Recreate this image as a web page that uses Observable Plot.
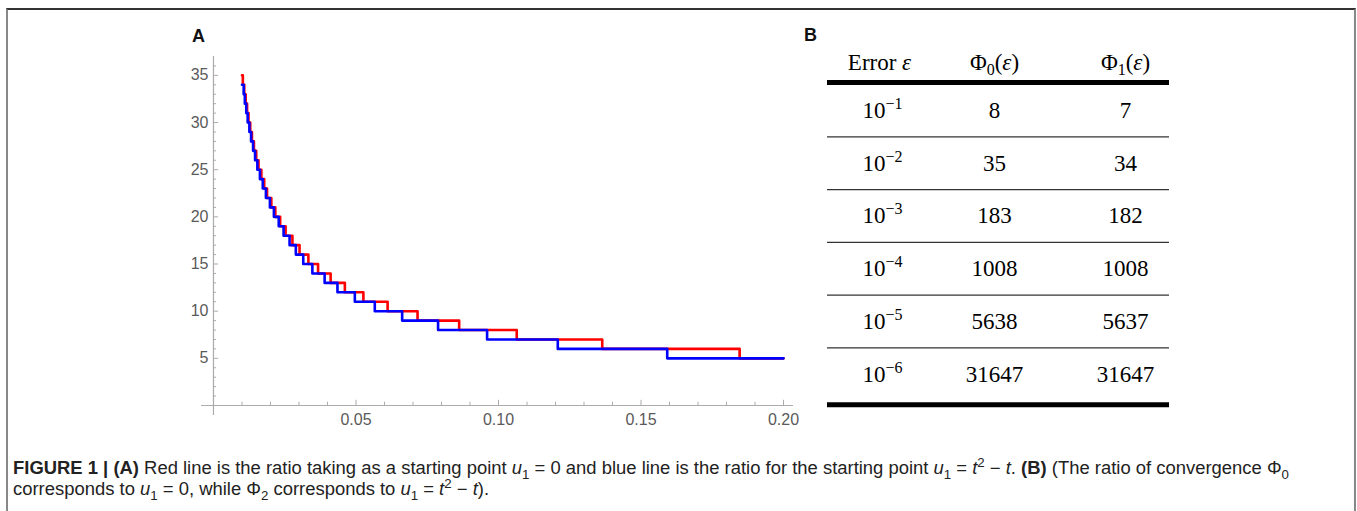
<!DOCTYPE html>
<html><head><meta charset="utf-8">
<script src="https://cdn.jsdelivr.net/npm/d3@7"></script>
<script src="https://cdn.jsdelivr.net/npm/@observablehq/plot@0.6"></script>
<style>
html,body{margin:0;padding:0;background:#fff;overflow:hidden;width:1357px;height:511px;}
#frame{position:absolute;left:6px;top:8px;width:1346px;height:600px;border-top:2px solid #333;border-left:2px solid #888;border-right:2px solid #888;}
.panel{position:absolute;font-family:"Liberation Sans",Arial,sans-serif;font-weight:bold;font-size:18px;line-height:18px;color:#111;}
#chart{position:absolute;left:0;top:0;}
#table{position:absolute;left:800px;top:0;}
.cap{position:absolute;left:13px;white-space:nowrap;font-family:"Liberation Sans Narrow","Liberation Sans",Arial,sans-serif;font-size:17.5px;line-height:18px;color:#222;transform-origin:0 50%;}
.cap i{font-style:italic;}
.cap sub,.cap sup{font-size:72%;line-height:0;}
</style></head><body>
<div id="frame"></div>
<div class="panel" style="left:192px;top:27px;">A</div>
<div class="panel" style="left:804px;top:26px;">B</div>
<div id="chart"></div>
<div id="table"></div>
<div class="cap" id="cap1" style="top:459px;"><b>FIGURE 1 | (A)</b> Red line is the ratio taking as a starting point <i>u</i><sub>1</sub> = 0 and blue line is the ratio for the starting point <i>u</i><sub>1</sub> = <i>t</i><sup>2</sup> − <i>t</i>. <b>(B)</b> (The ratio of convergence Φ<sub>0</sub></div>
<div class="cap" id="cap2" style="top:480px;">corresponds to <i>u</i><sub>1</sub> = 0, while Φ<sub>2</sub> corresponds to <i>u</i><sub>1</sub> = <i>t</i><sup>2</sup> − <i>t</i>).</div>
<script>
// ---- Panel A data: step functions (level reached at given error eps) ----
const redLevels = [35,34,33,32,31,30,29,28,27,26,25,24,23,22,21,20,19,18,17,16,15,14,13,12,11,10,9,8,7,6,5];
const redEps    = [0.0100,0.0103,0.0108,0.0113,0.0118,0.0123,0.0129,0.0135,0.0142,0.0150,0.0158,0.0168,0.0178,0.0188,0.0203,0.0217,0.0234,0.0253,0.0277,0.0302,0.0333,0.0367,0.0411,0.0461,0.0526,0.0611,0.0716,0.0862,0.1064,0.1364,0.1846];
const blueLevels = [34,33,32,31,30,29,28,27,26,25,24,23,22,21,20,19,18,17,16,15,14,13,12,11,10,9,8,7,6,5];
const blueEps    = [0.0100,0.0106,0.0110,0.0115,0.0120,0.0126,0.0132,0.0139,0.0146,0.0154,0.0163,0.0173,0.0184,0.0198,0.0212,0.0229,0.0246,0.0267,0.0289,0.0315,0.0347,0.0390,0.0435,0.0496,0.0566,0.0662,0.0788,0.0960,0.1208,0.1592];
const epsEnd = 0.2;
const endLevel = 5;
const xTicks = [0.05, 0.10, 0.15, 0.20];
const xTickLabels = ["0.05", "0.10", "0.15", "0.20"];
const yTicks = [5, 10, 15, 20, 25, 30, 35];
const yTickLabels = ["5", "10", "15", "20", "25", "30", "35"];

// ---- Panel B data: table ----
const tableHeaders = ["Error ε", "Φ0(ε)", "Φ1(ε)"];
const errorExponents = [-1, -2, -3, -4, -5, -6];
const phi0Values = [8, 35, 183, 1008, 5638, 31647];
const phi1Values = [7, 34, 182, 1008, 5637, 31647];

// build series
const redData = redEps.map((e, i) => ({eps: e, n: redLevels[i]})).concat([{eps: epsEnd, n: endLevel}]);
const blueData = blueEps.map((e, i) => ({eps: e, n: blueLevels[i]})).concat([{eps: epsEnd, n: endLevel}]);
const xMinor = d3.range(1, 21).map(k => k / 100);
const yMinor = d3.range(1, 37);
const axisCol = "#ababab";
const labelCol = "#5a5a5a";

const chart = Plot.plot({
  width: 800, height: 435,
  marginLeft: 201, marginRight: 7, marginTop: 56, marginBottom: 20,
  x: {domain: [-0.0042, 0.2035], axis: null},
  y: {domain: [-1.06, 37], axis: null},
  style: {fontFamily: "Liberation Sans, Arial, sans-serif", background: "transparent"},
  marks: [
    Plot.ruleY([0], {stroke: axisCol, strokeWidth: 1.2}),
    Plot.ruleX([0], {stroke: axisCol, strokeWidth: 1.2}),
    Plot.ruleX(xMinor, {x: d => d, y1: 0, y2: d => (Math.round(d * 100) % 5 === 0 ? 0.55 : 0.34), stroke: axisCol}),
    Plot.ruleY(yMinor, {y: d => d, x1: 0, x2: d => (d % 5 === 0 ? 0.0018 : 0.0011), stroke: axisCol}),
    Plot.text(xTicks, {x: d => d, y: () => 0, text: (d, i) => xTickLabels[i], dy: 14, fill: labelCol, fontSize: 16}),
    Plot.text(yTicks, {x: () => 0, y: d => d, text: (d, i) => yTickLabels[i], dx: -5, textAnchor: "end", fill: labelCol, fontSize: 16}),
    Plot.line(redData, {x: "eps", y: "n", curve: "step-after", stroke: "#ff0000", strokeWidth: 2.6}),
    Plot.line(blueData, {x: "eps", y: "n", curve: "step-after", stroke: "#0000ff", strokeWidth: 2.6})
  ]
});
document.getElementById("chart").appendChild(chart);

// ---- table drawn with Plot ----
const colKeys = ["err", "phi0", "phi1"];
const serif = "Liberation Serif, DejaVu Serif, serif";
const table = Plot.plot({
  width: 380, height: 430,
  marginLeft: 27, marginRight: 11, marginTop: 0, marginBottom: 0,
  x: {type: "point", domain: colKeys, range: [79, 325], padding: 0, axis: null},
  y: {type: "linear", domain: [-1, 6], range: [57.25, 426.5], axis: null},
  style: {fontFamily: serif, background: "transparent"},
  marks: [
    Plot.ruleY([-0.53, 5.58], {stroke: "#000", strokeWidth: 5}),
    Plot.ruleY(d3.range(0.5, 5, 1), {stroke: "#333", strokeWidth: 1.3}),
    Plot.text(tableHeaders, {x: (d, i) => colKeys[i], y: () => -0.91, text: d => d, fontSize: 23, fill: "#000"}),
    Plot.text(errorExponents, {x: () => "err", y: (d, i) => i, text: d => "10^−" + (-d), fontSize: 23, fill: "#000", dx: 3}),
    Plot.text(phi0Values, {x: () => "phi0", y: (d, i) => i, text: d => String(d), fontSize: 23, fill: "#000", dx: -8}),
    Plot.text(phi1Values, {x: () => "phi1", y: (d, i) => i, text: d => String(d), fontSize: 23, fill: "#000"})
  ]
});
document.getElementById("table").appendChild(table);

// rich text: superscripts, subscripts, italic epsilon
const NS = "http://www.w3.org/2000/svg";
function ts(parent, txt, attrs) {
  const t = document.createElementNS(NS, "tspan");
  t.textContent = txt;
  for (const k in attrs) t.setAttribute(k, attrs[k]);
  parent.appendChild(t);
  return t;
}
table.querySelectorAll("text").forEach(el => {
  const s = el.textContent;
  if (s.includes("^")) {
    const [base, exp] = s.split("^");
    el.textContent = base;
    ts(el, exp, {dy: "-9", "font-size": "16"});
  } else if (/^Φ\d\(ε\)$/.test(s)) {
    el.textContent = "Φ";
    ts(el, s[1], {dy: "5", "font-size": "16"});
    ts(el, "(", {dy: "-5"});
    ts(el, "ε", {"font-style": "italic"});
    ts(el, ")", {});
    if (s[1] === "0") el.setAttribute("transform", (el.getAttribute("transform") || "") + " translate(-8,0)");
  } else if (s === "Error ε") {
    el.textContent = "Error ";
    ts(el, "ε", {"font-style": "italic"});
  }
});

// caption fit
const c1 = document.getElementById("cap1"), c2 = document.getElementById("cap2");
const w = c1.getBoundingClientRect().width;
const sc = 1276 / w;
c1.style.transform = "scaleX(" + sc + ")";
c2.style.transform = "scaleX(" + sc + ")";
</script>
</body></html>
